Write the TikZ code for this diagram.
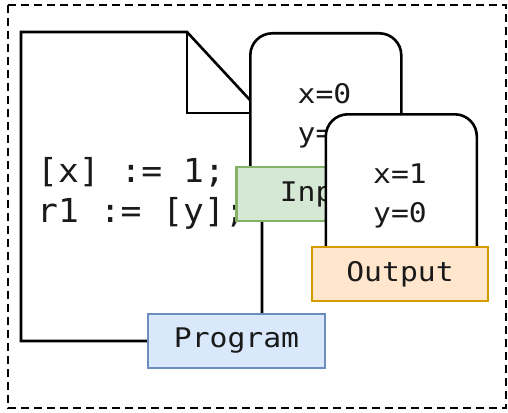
\documentclass[tikz,border=0pt]{standalone}
\usepackage{fontspec}
\newfontfamily\codefont[FakeStretch=1.05]{DejaVu Sans Mono}
\newfontfamily\labfont[FakeStretch=1.1]{DejaVu Sans Mono}
\definecolor{progfill}{HTML}{DAE8FC}
\definecolor{progdraw}{HTML}{6C8EBF}
\definecolor{infill}{HTML}{D5E8D4}
\definecolor{indraw}{HTML}{82B366}
\definecolor{outfill}{HTML}{FFE6CC}
\definecolor{outdraw}{HTML}{D79B00}
\definecolor{inktext}{HTML}{1A1A1A}
\tikzset{
  shapeline/.style={draw=black, line width=2.6pt, fill=white, line join=miter},
  card/.style={shapeline, rounded corners=22pt, minimum width=151pt, minimum height=162pt, inner sep=0pt, anchor=north west},
  valtext/.style={inner sep=0pt, anchor=north, align=center, text=inktext, font=\fontsize{27}{39}\labfont},
  tag/.style={line width=2.4pt, minimum width=176pt, minimum height=54pt, inner sep=0pt, text=inktext, font=\fontsize{27}{32}\labfont},
  codetext/.style={inner sep=0pt, anchor=north west, align=left, text=inktext, font=\fontsize{33}{40}\codefont},
  frame/.style={draw=black, line width=2.6pt, dash pattern=on 8pt off 5pt}
}
\begin{document}
\begin{tikzpicture}[x=1pt,y=-1pt]
\useasboundingbox (0,0) rectangle (508,412);
\draw[frame] (8,5) rectangle (506,408);
% document shape
\draw[shapeline] (21,32) -- (187,32) -- (262,113) -- (262,341) -- (21,341) -- cycle;
\draw[shapeline, fill=none] (187,32) -- (187,113) -- (262,113);
\node[codetext] (code) at (37,157) {[x] := 1;\\r1 := [y];};
% input card
\node[card] (inbox) at (249,32) {};
\node[valtext] (inval) at (324.5,83.3) {x=0\\y=0};
\node[tag, fill=infill, draw=indraw] (input) at (324.5,194) {Input};
% output card
\node[card] (outbox) at (324.5,113) {};
\node[valtext] (outval) at (400,163.3) {x=1\\y=0};
\node[tag, fill=outfill, draw=outdraw] (output) at (400,274) {Output};
% program tag
\node[tag, fill=progfill, draw=progdraw, minimum width=177pt] (program) at (236.5,341) {Program};
\end{tikzpicture}
\end{document}
